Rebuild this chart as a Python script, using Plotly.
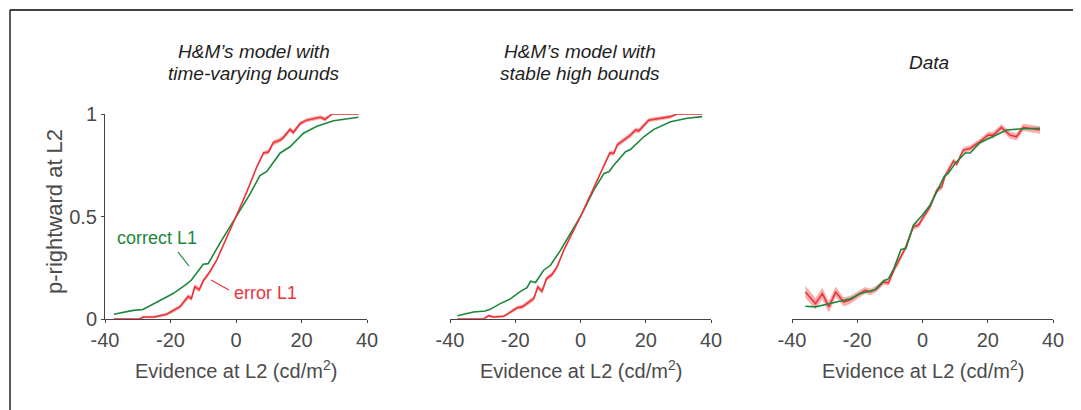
import plotly.graph_objects as go

# ---------------- data ----------------
ticks_x = [-40, -20, 0, 20, 40]
ticks_x_text = ["-40", "-20", "0", "20", "40"]
ticks_y = [0, 0.5, 1]
ticks_y_text = ["0", "0.5", "1"]

titles = [["H&M\u2019s model with", "time-varying bounds"],
          ["H&M\u2019s model with", "stable high bounds"],
          ["Data"]]

# Panel 1: time-varying bounds
p1_correct_x = [-37.3, -31.4, -28.4, -24, -19.2, -15.1, -13.6, -10, -8.5, -4.9, 0, 4.3, 7.3, 9.4, 13.5, 16.5, 20.6, 24.7, 29.8, 37.4]
p1_correct_y = [0.023, 0.042, 0.046, 0.085, 0.124, 0.17, 0.19, 0.267, 0.27, 0.37, 0.5, 0.61, 0.70, 0.72, 0.81, 0.84, 0.906, 0.94, 0.967, 0.984]
p1_error_x = [-37.3, -29.4, -28.4, -25, -21.2, -19.2, -17.1, -15.6, -14.6, -13.6, -12.6, -11.2, -10, -8, -5.9, 0, 3.3, 6.3, 8.4, 9.9, 11.4, 13.5, 14.5, 16.5, 17.5, 19.6, 21.6, 25.7, 27.2, 29.3, 37.4]
p1_error_y = [0, 0, 0.01, 0.01, 0.023, 0.04, 0.06, 0.09, 0.11, 0.10, 0.157, 0.143, 0.186, 0.23, 0.287, 0.5, 0.62, 0.74, 0.81, 0.815, 0.86, 0.873, 0.886, 0.925, 0.91, 0.954, 0.97, 0.984, 0.974, 1.0, 1.0]
p1_error_sem = [0.003, 0.003, 0.006, 0.006, 0.008, 0.01, 0.01, 0.012, 0.012, 0.012, 0.012, 0.012, 0.012, 0.01, 0.006, 0.003, 0.004, 0.006, 0.01, 0.012, 0.012, 0.012, 0.012, 0.012, 0.012, 0.01, 0.01, 0.01, 0.012, 0.004, 0.003]

# Panel 2: stable high bounds
p2_correct_x = [-37.7, -32.8, -29.2, -27.7, -24.6, -21.5, -18.4, -16.4, -15.3, -13.8, -11.3, -9.2, -6.1, 0, 4.1, 7.2, 8.7, 10.2, 13.8, 15.3, 19.4, 22.5, 27.6, 32.7, 37.3]
p2_correct_y = [0.016, 0.034, 0.039, 0.047, 0.075, 0.098, 0.135, 0.153, 0.184, 0.178, 0.238, 0.262, 0.336, 0.5, 0.63, 0.71, 0.718, 0.75, 0.816, 0.827, 0.889, 0.925, 0.962, 0.979, 0.987]
p2_error_x = [-37.7, -29.7, -28.2, -26.7, -23.5, -21.5, -19.4, -17.9, -16.4, -14.3, -13.1, -11.8, -10.4, -8.7, -7.2, -5.1, 0, 5.1, 7.7, 9.0, 10.2, 11.3, 13.3, 15.3, 16.9, 17.9, 20.9, 24.5, 27.5, 29.6, 37.3]
p2_error_y = [0, 0, 0.016, 0.01, 0.013, 0.034, 0.055, 0.059, 0.075, 0.10, 0.156, 0.135, 0.197, 0.217, 0.254, 0.336, 0.5, 0.68, 0.767, 0.81, 0.808, 0.85, 0.873, 0.897, 0.922, 0.918, 0.97, 0.979, 0.987, 1.0, 1.0]
p2_error_sem = [0.003, 0.003, 0.006, 0.006, 0.006, 0.008, 0.01, 0.01, 0.012, 0.012, 0.012, 0.012, 0.012, 0.012, 0.01, 0.006, 0.003, 0.006, 0.01, 0.012, 0.012, 0.012, 0.012, 0.012, 0.012, 0.012, 0.01, 0.01, 0.01, 0.004, 0.003]

# Panel 3: data
p3_correct_x = [-35.9, -32.8, -29.3, -25.2, -22.1, -19.1, -17.0, -14.5, -11.9, -10.4, -8.8, -6.6, -5.1, -2.8, 0, 2.3, 4.4, 6.7, 7.9, 10, 13.1, 14.6, 17.6, 21.7, 25.8, 30.9, 36]
p3_correct_y = [0.062, 0.059, 0.072, 0.088, 0.099, 0.124, 0.132, 0.143, 0.186, 0.197, 0.246, 0.339, 0.344, 0.458, 0.507, 0.555, 0.621, 0.697, 0.71, 0.759, 0.81, 0.81, 0.86, 0.889, 0.922, 0.928, 0.93]
p3_error_x = [-35.9, -32.8, -30.7, -28.7, -26.6, -24.1, -22.1, -20.1, -17.6, -16.0, -14.0, -11.9, -10.4, -8.8, -7.4, -5.3, -2.8, -1.2, 0.3, 2.3, 4.4, 5.9, 6.9, 9.5, 10.5, 12.5, 14.6, 17.6, 20.1, 21.7, 24.2, 26.8, 28.8, 30.9, 36]
p3_error_y = [0.132, 0.075, 0.124, 0.059, 0.132, 0.083, 0.094, 0.116, 0.14, 0.132, 0.148, 0.181, 0.176, 0.238, 0.279, 0.344, 0.45, 0.458, 0.498, 0.547, 0.629, 0.645, 0.697, 0.77, 0.756, 0.824, 0.832, 0.865, 0.897, 0.897, 0.935, 0.897, 0.889, 0.935, 0.922]
p3_error_sem = [0.03, 0.028, 0.028, 0.028, 0.026, 0.022, 0.02, 0.018, 0.016, 0.016, 0.015, 0.014, 0.014, 0.014, 0.014, 0.014, 0.014, 0.014, 0.014, 0.014, 0.014, 0.014, 0.014, 0.014, 0.014, 0.014, 0.014, 0.014, 0.016, 0.016, 0.016, 0.018, 0.018, 0.018, 0.018]

# ---------------- style ----------------
WIN_W, WIN_H = 1081, 410
OFF = 8  # page body margin: the figure is drawn 8 px in from the window corner
W, H = WIN_W - OFF, WIN_H - OFF  # so the figure fills the window without overflow
GREEN = "rgb(27,135,58)"
RED = "rgb(236,52,58)"
BAND = "rgba(240,110,110,0.55)"
AXC = "rgb(70,70,70)"
TXT = "rgb(75,75,75)"
FONT = "Liberation Sans, Arial, Helvetica, sans-serif"

# pixel layout in window coordinates
panels_px = [(105, 367), (450, 711), (792, 1053)]
y_top_px, y_bot_px = 114, 319
title_cx = [254, 580, 929]


def px_x(p):
    return (p - OFF) / W


def px_y(p):
    return 1 - (p - OFF) / H


fig = go.Figure()

series = [
    (p1_correct_x, p1_correct_y, p1_error_x, p1_error_y, p1_error_sem, False),
    (p2_correct_x, p2_correct_y, p2_error_x, p2_error_y, p2_error_sem, False),
    (p3_correct_x, p3_correct_y, p3_error_x, p3_error_y, p3_error_sem, True),
]

for i, (cx, cy, ex, ey, es, green_top) in enumerate(series):
    xa = "x" if i == 0 else f"x{i+1}"
    ya = "y" if i == 0 else f"y{i+1}"
    up = [min(1.0, v + s) for v, s in zip(ey, es)]
    lo = [max(0.0, v - s) for v, s in zip(ey, es)]
    band = go.Scatter(x=list(ex) + list(ex)[::-1], y=up + lo[::-1], fill="toself",
                      fillcolor=BAND, line=dict(width=0), mode="lines",
                      hoverinfo="skip", showlegend=False, xaxis=xa, yaxis=ya)
    red = go.Scatter(x=ex, y=ey, mode="lines", line=dict(color=RED, width=1.6),
                     showlegend=False, xaxis=xa, yaxis=ya, cliponaxis=False)
    green = go.Scatter(x=cx, y=cy, mode="lines", line=dict(color=GREEN, width=1.6),
                       showlegend=False, xaxis=xa, yaxis=ya, cliponaxis=False)
    if green_top:
        fig.add_traces([band, red, green])
    else:
        fig.add_traces([green, band, red])

layout = dict(
    template="none",
    width=W, height=H, autosize=False,
    margin=dict(l=0, r=0, t=0, b=0, pad=0, autoexpand=False),
    paper_bgcolor="white", plot_bgcolor="white",
    font=dict(family=FONT, size=20, color=TXT),
    showlegend=False,
)

for i, (x0, x1) in enumerate(panels_px):
    key = "xaxis" if i == 0 else f"xaxis{i+1}"
    ykey = "yaxis" if i == 0 else f"yaxis{i+1}"
    anchor = "y" if i == 0 else f"y{i+1}"
    layout[key] = dict(domain=[px_x(x0), px_x(x1)], range=[-40, 40], anchor=anchor,
                       automargin=False,
                       tickvals=ticks_x, ticktext=ticks_x_text,
                       ticks="outside", ticklen=3, tickwidth=1,
                       tickcolor=AXC, showline=True, linecolor=AXC, linewidth=1,
                       showgrid=False, zeroline=False,
                       tickfont=dict(size=20, color=TXT, family=FONT))
    layout[ykey] = dict(domain=[px_y(y_bot_px), px_y(y_top_px)], range=[0, 1],
                        anchor="x" if i == 0 else f"x{i+1}",
                        automargin=False,
                        tickvals=ticks_y, ticktext=ticks_y_text,
                        ticks="outside", ticklen=3, tickwidth=1, tickcolor=AXC,
                        showline=True, linecolor=AXC, linewidth=1,
                        showgrid=False, zeroline=False,
                        tickfont=dict(size=20, color=TXT, family=FONT),
                        visible=(i == 0))

fig.update_layout(**layout)

ann = []
# panel titles
for i, lines in enumerate(titles):
    if len(lines) == 2:
        ys = [52, 73]
    else:
        ys = [63]
    for ln, yy in zip(lines, ys):
        ann.append(dict(text=f"<i>{ln}</i>", x=px_x(title_cx[i]), y=px_y(yy),
                        xref="paper", yref="paper", showarrow=False,
                        xanchor="center", yanchor="middle",
                        font=dict(size=19, color="rgb(30,30,30)", family=FONT)))
# x axis titles
for (x0, x1) in panels_px:
    ann.append(dict(text="Evidence at L2 (cd/m<sup>2</sup>)", x=px_x((x0 + x1) / 2),
                    y=px_y(369), xref="paper", yref="paper", showarrow=False,
                    xanchor="center", yanchor="middle",
                    font=dict(size=20, color=TXT, family=FONT)))
# y axis title
ann.append(dict(text="p-rightward at L2", x=px_x(54), y=px_y(212), xref="paper",
                yref="paper", showarrow=False, textangle=-90,
                xanchor="center", yanchor="middle",
                font=dict(size=22, color=TXT, family=FONT)))
# labels
ann.append(dict(text="correct L1", x=px_x(157), y=px_y(238), xref="paper", yref="paper",
                showarrow=False, xanchor="center", yanchor="middle",
                font=dict(size=18, color=GREEN, family=FONT)))
ann.append(dict(text="error L1", x=px_x(265), y=px_y(293), xref="paper", yref="paper",
                showarrow=False, xanchor="center", yanchor="middle",
                font=dict(size=18, color=RED, family=FONT)))
fig.update_layout(annotations=ann)

shapes = [
    # pointer lines
    dict(type="line", xref="paper", yref="paper", x0=px_x(178), y0=px_y(252),
         x1=px_x(189), y1=px_y(266), line=dict(color=GREEN, width=1.2)),
    dict(type="line", xref="paper", yref="paper", x0=px_x(211), y0=px_y(280),
         x1=px_x(229), y1=px_y(290), line=dict(color=RED, width=1.2)),
    # figure border (top and left)
    dict(type="line", xref="paper", yref="paper", x0=px_x(10), y0=px_y(10),
         x1=1, y1=px_y(10), line=dict(color="black", width=1.3)),
    dict(type="line", xref="paper", yref="paper", x0=px_x(10), y0=px_y(10),
         x1=px_x(10), y1=0, line=dict(color="black", width=1.3)),
]
fig.update_layout(shapes=shapes)

fig.write_html("out.html")
